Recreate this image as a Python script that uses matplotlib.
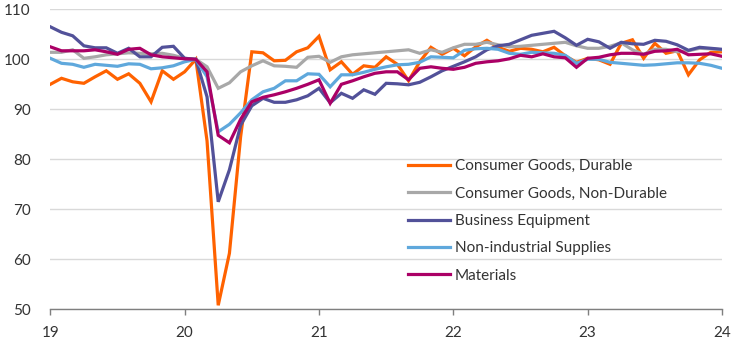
import numpy as np
import matplotlib
matplotlib.use("Agg")
import matplotlib.pyplot as plt

plt.rcParams['font.family'] = ['Lato', 'DejaVu Sans']

# Monthly index values, Jan 2019 .. Jan 2024 (Feb 2020 = 100)
durable = [95.0, 96.2, 95.5, 95.2, 96.5, 97.7, 96.0, 97.1, 95.2, 91.5, 97.7, 96.0,
           97.5, 100.0, 83.7, 50.8, 61.2, 84.5, 101.5, 101.3, 99.7, 99.8, 101.5, 102.3,
           104.6, 97.9, 99.5, 97.0, 98.7, 98.4, 100.5, 99.0, 95.7, 99.5, 102.4, 101.0,
           102.2, 100.7, 102.5, 103.8, 102.4, 101.6, 102.2, 102.0, 101.5, 102.4, 100.7, 99.4,
           100.2, 99.9, 99.0, 103.2, 103.9, 100.2, 103.2, 101.2, 101.7, 96.9, 99.9, 101.4,
           101.5]
nondurable = [101.4, 101.4, 101.9, 100.2, 100.5, 100.9, 101.1, 101.3, 101.2, 101.1, 101.2, 100.8,
              100.2, 100.0, 98.5, 94.2, 95.3, 97.5, 98.7, 99.7, 98.7, 98.6, 98.4, 100.4,
              100.6, 99.4, 100.5, 100.9, 101.1, 101.3, 101.5, 101.7, 101.9, 101.2, 101.9, 101.4,
              102.3, 103.0, 103.0, 103.4, 102.9, 102.5, 102.6, 102.8, 103.0, 103.2, 103.4, 102.7,
              102.2, 102.2, 102.6, 103.3, 101.9, 101.0, 102.0, 102.0, 101.5, 101.7, 102.2, 102.1,
              101.9]
business = [106.5, 105.4, 104.7, 102.7, 102.3, 102.3, 101.2, 102.2, 100.5, 100.5, 102.4, 102.6,
            100.2, 100.0, 92.5, 71.5, 77.9, 86.8, 90.7, 92.2, 91.4, 91.4, 91.9, 92.7,
            94.2, 91.3, 93.2, 92.2, 93.9, 93.0, 95.2, 95.1, 94.9, 95.4, 96.5, 97.7,
            98.6, 99.5, 100.5, 101.9, 102.7, 103.0, 103.9, 104.8, 105.2, 105.6, 104.3, 102.8,
            104.0, 103.5, 102.2, 103.4, 103.1, 103.0, 103.8, 103.6, 102.9, 101.8, 102.4, 102.2,
            102.0]
supplies = [100.2, 99.2, 99.0, 98.4, 99.0, 98.8, 98.6, 99.1, 99.0, 98.1, 98.3, 98.7,
            99.5, 100.0, 96.5, 85.5, 87.0, 89.3, 91.9, 93.5, 94.2, 95.7, 95.7, 97.1,
            97.0, 94.5, 96.9, 96.9, 97.4, 98.0, 98.5, 98.9, 99.0, 99.4, 100.5, 100.4,
            100.3, 101.8, 102.1, 102.2, 102.0, 101.2, 101.0, 101.4, 101.3, 101.2, 100.8, 99.2,
            100.0, 100.0, 99.4, 99.2, 99.0, 98.8, 98.9, 99.1, 99.3, 99.3, 99.2, 98.8,
            98.2]
materials = [102.5, 101.7, 101.7, 101.7, 101.9, 101.5, 101.0, 102.0, 102.2, 100.9, 100.5, 100.3,
             100.1, 100.0, 97.5, 84.8, 83.3, 88.0, 91.5, 92.4, 92.9, 93.5, 94.2, 95.0,
             95.9, 91.2, 95.0, 95.7, 96.5, 97.2, 97.5, 97.5, 95.9, 98.2, 98.5, 98.2,
             98.0, 98.4, 99.2, 99.5, 99.7, 100.1, 100.8, 100.5, 101.1, 100.5, 100.3, 98.4,
             100.2, 100.4, 100.9, 101.2, 101.2, 101.0, 101.6, 101.7, 102.0, 100.9, 101.0, 101.1,
             100.6]

series_names = ["Consumer Goods, Durable", "Consumer Goods, Non-Durable",
                "Business Equipment", "Non-industrial Supplies", "Materials"]
series_colors = ["#FF6200", "#A8A8A8", "#525199", "#5FA8DC", "#AB0066"]

start_year = 2019
year_ticks = [2019, 2020, 2021, 2022, 2023, 2024]
year_labels = ["19", "20", "21", "22", "23", "24"]
y_ticks = [50, 60, 70, 80, 90, 100, 110]

x = start_year + np.arange(len(durable)) / 12.0

W, H = 744, 343
fig = plt.figure(figsize=(W / 100, H / 100), dpi=100)
ax = fig.add_axes([50.3 / W, 1 - 309.3 / H, (722 - 50.3) / W, (309.3 - 9.3) / H])

for vals, name, col in zip([durable, nondurable, business, supplies, materials],
                           series_names, series_colors):
    ax.plot(x, vals, color=col, lw=2.3, label=name, solid_joinstyle='miter', zorder=3)

ax.set_xlim(2019, 2024)
ax.set_ylim(50, 110)
ax.set_yticks(y_ticks)
ax.set_xticks(year_ticks)
ax.set_xticklabels(year_labels)

ax.grid(axis='y', color='#D9D9D9', lw=1.0, zorder=0)
ax.set_axisbelow(True)
for s in ['top', 'right', 'left']:
    ax.spines[s].set_visible(False)
ax.spines['bottom'].set_color('#7F7F7F')
ax.spines['bottom'].set_linewidth(1.0)
ax.spines['bottom'].set_zorder(4)

ax.tick_params(axis='y', length=0, pad=14, labelsize=11, labelcolor='#333333')
ax.tick_params(axis='x', length=4, width=1.0, color='#7F7F7F', pad=8,
               labelsize=11, labelcolor='#333333')

leg = ax.legend(loc='upper left', bbox_to_anchor=(408 / W, 1 - 159 / H),
                bbox_transform=fig.transFigure, frameon=False, fontsize=11,
                handlelength=2.75, handletextpad=0.3, labelspacing=0.88,
                borderpad=0, borderaxespad=0)
for t in leg.get_texts():
    t.set_color('#333333')

fig.savefig("out.png", dpi=100)
